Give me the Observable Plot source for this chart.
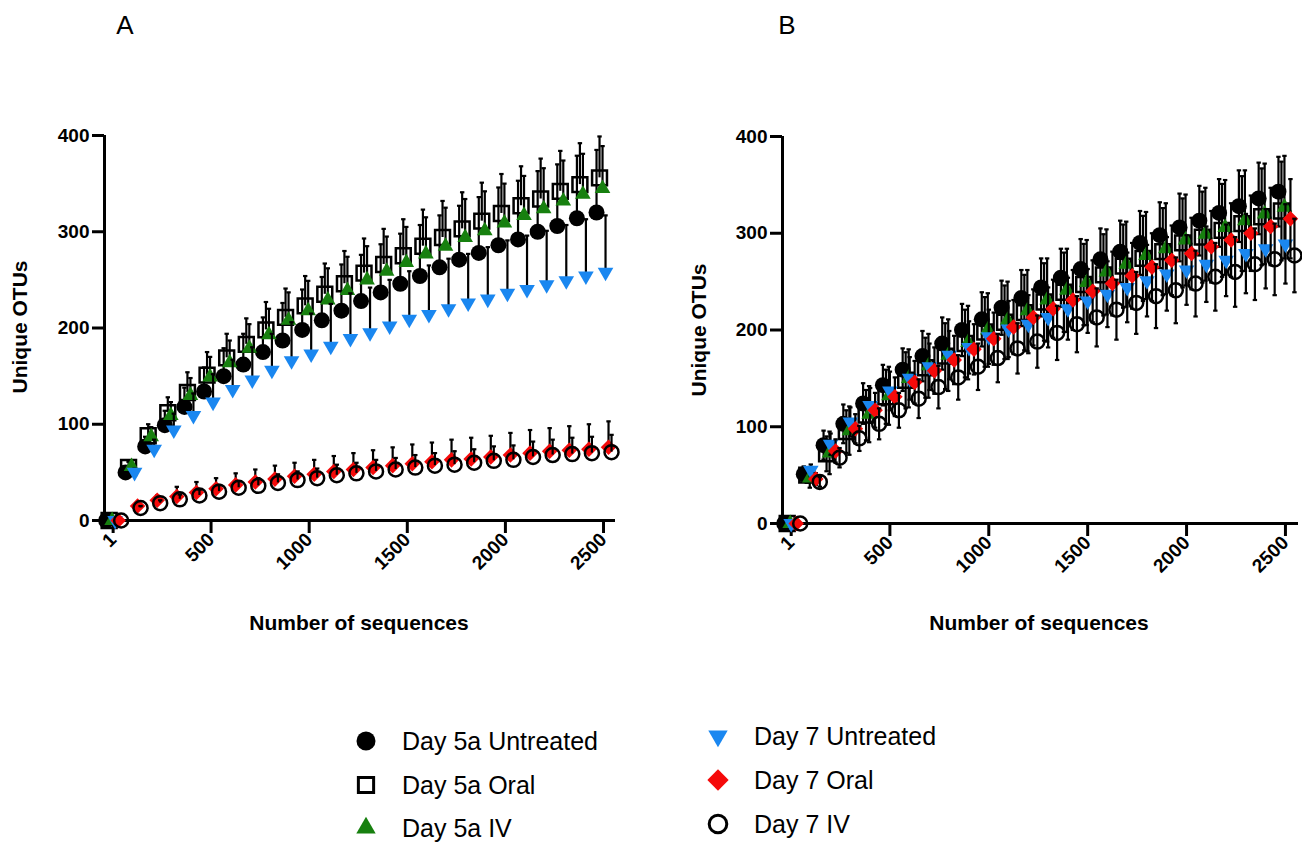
<!DOCTYPE html>
<html><head><meta charset="utf-8">
<script src="https://cdn.jsdelivr.net/npm/d3@7"></script>
<script src="https://cdn.jsdelivr.net/npm/@observablehq/plot@0.6"></script>
<style>
body{margin:0;background:#fff;font-family:"Liberation Sans",Arial,Helvetica,sans-serif;}
#root{position:relative;width:1302px;height:843px;overflow:hidden;background:#fff;}
.abs{position:absolute;white-space:nowrap;line-height:1;}
.ttl{font-weight:bold;font-size:21px;color:#000;transform:translate(-50%,-50%);}
.ylab{transform:translate(-50%,-50%) rotate(-90deg);}
.pl{font-size:26px;color:#000;transform:translate(-50%,-50%);}
.leg{font-size:25px;color:#000;transform:translate(0,-50%);}
svg.legsym{position:absolute;overflow:visible;}
</style></head><body><div id="root"></div>
<script>
// ---------- data ----------
const sequences = [1,100,200,300,400,500,600,700,800,900,1000,1100,1200,1300,1400,1500,1600,1700,1800,1900,2000,2100,2200,2300,2400,2500];
const xTicks = [1,500,1000,1500,2000,2500];
const yTicks = [0,100,200,300,400];
const seriesNames = ["Day 5a Untreated","Day 5a Oral","Day 5a IV","Day 7 Untreated","Day 7 Oral","Day 7 IV"];

// Panel A means
const A_d5Untreated = [0,50,77,99,118,134,150,162,175,187,198,208,218,228,237,246,254,263,271,278,286,292,300,306,314,320];
const A_d5Oral      = [0,55,88,112,133,151,169,183,198,211,223,235,246,257,266,275,285,294,303,311,319,327,334,342,349,356];
const A_d5IV        = [0,56,87,109,130,149,164,179,193,208,218,229,239,250,259,268,277,285,294,301,309,317,324,332,339,345];
const A_d7Untreated = [0,50,74,94,109,123,136,146,156,166,173,181,189,195,202,209,214,220,226,230,236,240,245,249,254,258];
const A_d7Oral      = [0,15,21,25,29,33,37,40,43,46,48,51,53,55,57,59,61,63,64,66,68,70,72,73,74,76];
const A_d7IV        = [0,13,18,22,26,30,34,36,39,42,44,47,49,51,53,55,57,58,60,62,63,66,68,69,70,71];
// Panel A error (SD, drawn above)
const A_d5Untreated_sd = [0,5,10,15,20,25,29,32,36,39,42,45,48,48,50,52,53,54,56,58,60,61,63,64,65,65];
const A_d5Oral_sd      = [0,6,12,16,21,24,25,27,29,30,31,32,34,36,37,38,38,38,38,40,41,41,42,42,43,43];
const A_d5IV_sd        = [0,4,10,14,18,21,23,25,27,29,31,33,35,35,36,37,38,40,40,41,41,41,42,42,42,44];
const A_d7Untreated_sd = [0,4,10,17,23,29,31,34,38,40,42,44,47,47,48,50,51,52,51,54,55,56,56,58,59,59];
const A_d7Oral_sd      = [0,4,5,10,11,11,12,13,14,14,15,16,17,18,19,20,20,21,22,22,23,24,24,25,26,27];
const A_d7IV_sd        = [0,2,3,5,6,7,7,8,9,9,10,11,11,12,12,13,13,14,14,15,15,16,16,17,17,18];

// Panel B means
const B_d5Untreated = [0,51,81,103,124,143,159,173,186,200,211,223,233,244,254,263,273,281,290,298,306,313,321,328,336,343];
const B_d5Oral      = [0,50,72,95,112,131,148,161,173,186,198,208,218,229,239,247,257,266,274,281,290,296,303,310,317,323];
const B_d5IV        = [0,47,73,96,113,132,150,163,174,187,200,210,220,231,241,249,260,268,277,284,293,299,306,313,320,327];
const B_d7Untreated = [0,55,82,105,122,137,150,162,174,182,193,201,206,213,222,230,237,244,251,258,262,268,272,279,284,289];
const B_d7Oral      = [0,46,75,98,117,131,146,158,169,180,191,203,213,222,231,240,248,256,265,272,279,286,293,300,307,315];
const B_d7IV        = [0,43,68,88,103,117,129,141,151,162,171,181,188,197,206,213,221,228,235,241,248,255,260,268,273,277];
// Panel B error (SD, drawn both ways)
const B_d5Untreated_sd = [0,8,15,20,21,21,22,26,27,27,28,28,29,30,30,31,32,32,33,34,35,36,35,37,37,36];
const B_d5Oral_sd      = [0,8,18,22,26,28,29,31,34,35,36,38,39,40,41,42,42,43,44,45,46,47,48,49,50,51];
const B_d5IV_sd        = [0,10,22,25,29,30,30,33,37,38,38,40,42,43,43,44,44,44,45,47,47,48,49,52,52,53];
const B_d7Untreated_sd = [0,6,11,15,18,20,22,24,25,27,28,29,30,31,32,33,34,36,37,38,36,39,37,41,41,41];
const B_d7Oral_sd      = [0,6,12,15,18,20,22,24,25,26,27,28,29,30,31,32,33,34,35,36,37,37,38,39,40,41];
const B_d7IV_sd        = [0,5,10,13,16,18,20,22,23,24,25,26,27,28,29,30,31,32,33,34,34,35,36,37,37,38];

// ---------- symbols & styles ----------
const triDown = {draw(ctx, size){const s3=Math.sqrt(3);const y=-Math.sqrt(size/(s3*3));ctx.moveTo(0,-2*y);ctx.lineTo(-s3*y,y);ctx.lineTo(s3*y,y);ctx.closePath();}};
const capSym = {draw(ctx, size){const w=Math.sqrt(size/Math.PI);ctx.moveTo(-w,0);ctx.lineTo(w,0);}};
const GREEN="#17800f", BLUE="#1a87f0", RED="#f50a0a";
const styles = [
  {symbol:"circle", r:8, fill:"black", stroke:"none", sw:0},
  {symbol:"square", r:8.4, fill:"none", stroke:"black", sw:2.5},
  {symbol:"triangle", r:5.8, fill:GREEN, stroke:"none", sw:0},
  {symbol:triDown, r:5.8, fill:BLUE, stroke:"none", sw:0},
  {symbol:"diamond2", r:7, fill:RED, stroke:"none", sw:0},
  {symbol:"circle", r:7, fill:"none", stroke:"black", sw:2.5}
];
const dxA = [-7,-4,-1,2,5,8];
const dxB = [-7,-4,-1,0,5,9];

function rows(vals, sds){ return sequences.map((x,i)=>({x, y: vals[i], sd: sds[i]})); }

function panel(opts){
  const {means, sds, dxs, xDomain, width, height, ml, mr, mt, mb, both} = opts;
  const marks = [];
  means.forEach((vals, k) => {
    const st = styles[k], dx = dxs[k];
    const data = rows(vals, sds[k]);
    const eb = data.filter(d => d.sd > 0);
    marks.push(Plot.ruleX(eb, {x:"x", y1: d => both ? d.y - d.sd : d.y, y2: d => d.y + d.sd, dx, stroke:"black", strokeWidth:2.2}));
    marks.push(Plot.dot(eb, {x:"x", y: d => d.y + d.sd, dx, symbol: capSym, r:2.2, stroke:"black", strokeWidth:2.2}));
    if (both) marks.push(Plot.dot(eb, {x:"x", y: d => d.y - d.sd, dx, symbol: capSym, r:2.2, stroke:"black", strokeWidth:2.2}));
    marks.push(Plot.dot(data, {x:"x", y:"y", dx, symbol: st.symbol, r: st.r, fill: st.fill, stroke: st.stroke, strokeWidth: st.sw}));
  });
  return Plot.plot({
    width, height, marginLeft: ml, marginRight: mr, marginTop: mt, marginBottom: mb,
    style: {fontFamily: '"Liberation Sans", Arial, sans-serif', background: "transparent", overflow: "visible"},
    x: {domain: xDomain},
    y: {domain: [0, 400]},
    marks: [
      Plot.axisY({ticks: yTicks, tickSize: 12, tickPadding: 3, strokeWidth: 3, fontSize: 19, fontWeight: "bold", label: null}),
      Plot.axisX({ticks: xTicks, tickFormat: d => String(d), tickSize: 13, tickPadding: 3, tickRotate: -45, strokeWidth: 3, fontSize: 19, fontWeight: "bold", label: null}),
      Plot.ruleY([0], {stroke: "black", strokeWidth: 3}),
      Plot.ruleX([xDomain[0]], {stroke: "black", strokeWidth: 3}),
      ...marks
    ]
  });
}

const root = document.getElementById("root");
function place(el, left, top){ el.style.position="absolute"; el.style.left=left+"px"; el.style.top=top+"px"; root.appendChild(el); }

const pA = panel({
  means: [A_d5Untreated, A_d5Oral, A_d5IV, A_d7Untreated, A_d7Oral, A_d7IV],
  sds: [A_d5Untreated_sd, A_d5Oral_sd, A_d5IV_sd, A_d7Untreated_sd, A_d7Oral_sd, A_d7IV_sd],
  dxs: dxA, xDomain: [-43, 2561], width: 650, height: 660, ml: 104, mr: 35, mt: 135, mb: 140, both: false
});
place(pA, 0, 0);
const pB = panel({
  means: [B_d5Untreated, B_d5Oral, B_d5IV, B_d7Untreated, B_d7Oral, B_d7IV],
  sds: [B_d5Untreated_sd, B_d5Oral_sd, B_d5IV_sd, B_d7Untreated_sd, B_d7Oral_sd, B_d7IV_sd],
  dxs: dxB, xDomain: [-43, 2566], width: 642, height: 660, ml: 122, mr: 4, mt: 136, mb: 137, both: true
});
place(pB, 660, 0);

function label(text, cls, x, y){ const d=document.createElement("div"); d.className="abs "+cls; d.textContent=text; d.style.left=x+"px"; d.style.top=y+"px"; root.appendChild(d); }
label("A","pl",125,25);
label("B","pl",787,25);
label("Unique OTUs","ttl ylab",19,327);
label("Unique OTUs","ttl ylab",698,330);
label("Number of sequences","ttl",359,622);
label("Number of sequences","ttl",1039,622);

// legend
const legSyms = [
  {type:d3.symbolCircle, r:9.5, fill:"black", stroke:"none", sw:0},
  {type:d3.symbolSquare, r:8.6, fill:"none", stroke:"black", sw:3},
  {type:d3.symbolTriangle, r:7.2, fill:GREEN, stroke:"none", sw:0},
  {type:triDown, r:7.2, fill:BLUE, stroke:"none", sw:0},
  {type:d3.symbolDiamond2, r:9.6, fill:RED, stroke:"none", sw:0},
  {type:d3.symbolCircle, r:8.8, fill:"none", stroke:"black", sw:3}
];
const legPos = [[366,741],[366,785],[366,828],[718,736],[718,780],[718,824]];
seriesNames.forEach((name,k)=>{
  const [mx,my] = legPos[k], s = legSyms[k];
  const svg = document.createElementNS("http://www.w3.org/2000/svg","svg");
  svg.setAttribute("class","legsym"); svg.setAttribute("width",30); svg.setAttribute("height",30);
  svg.style.left=(mx-15)+"px"; svg.style.top=(my-15)+"px";
  const p = document.createElementNS("http://www.w3.org/2000/svg","path");
  p.setAttribute("d", d3.symbol(s.type, s.r*s.r*Math.PI)());
  p.setAttribute("transform","translate(15,15)");
  p.setAttribute("fill", s.fill); p.setAttribute("stroke", s.stroke); p.setAttribute("stroke-width", s.sw);
  svg.appendChild(p); root.appendChild(svg);
  label(name, "leg", mx+36, my);
});
</script></body></html>
